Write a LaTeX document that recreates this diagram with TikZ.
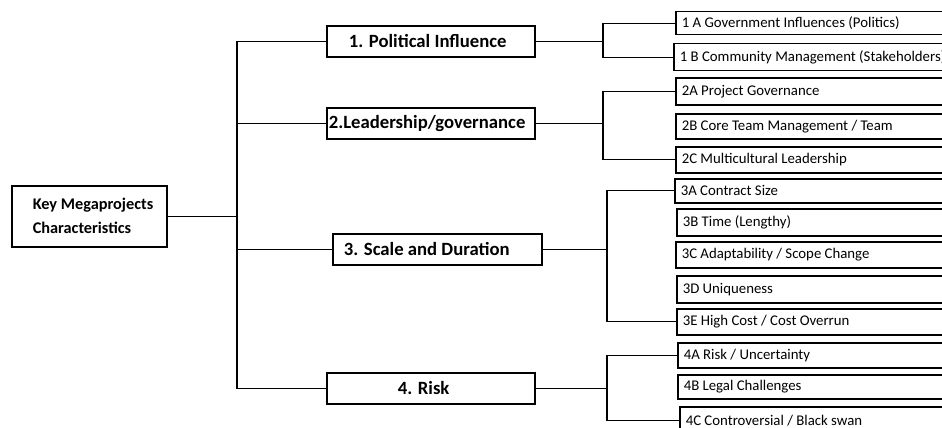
\documentclass[tikz,border=0pt]{standalone}
\usepackage{fontspec}
\setmainfont{Carlito}
\newcommand{\lbox}[3]{\makebox[#1][l]{\hspace*{#2}#3}}
\begin{document}
\begin{tikzpicture}[x=1pt,y=-1pt,
  conn/.style={line width=1.3pt},
  rootbox/.style={draw,line width=1.6pt,anchor=north west,minimum width=155pt,minimum height=61pt,inner xsep=0pt,font=\bfseries\fontsize{16.3}{24}\selectfont},
  lonebox/.style={draw,line width=1.6pt,anchor=north west,minimum height=31pt,inner xsep=0pt,inner ysep=0pt,font=\bfseries\fontsize{18.7}{20}\selectfont},
  ltwobox/.style={draw,line width=1.5pt,anchor=north west,minimum height=25pt,inner ysep=0pt,inner xsep=0pt,font=\fontsize{14.8}{16}\selectfont}]
\useasboundingbox (0,0) rectangle (942,428);
\clip (0,0) rectangle (942,428);
% root
\node[rootbox] (root) at (11,185) {\parbox{155pt}{\raggedright\hspace*{21pt}Key Megaprojects\\\hspace*{21pt}Characteristics}};
% level 1
\node[lonebox] (p1) at (326,25) {\lbox{208pt}{22pt}{1. Political Influence}};
\node[lonebox] (p2) at (326,107) {\lbox{208pt}{2pt}{2.Leadership/governance}};
\node[lonebox] (p3) at (332,233) {\lbox{209pt}{11pt}{3. Scale and Duration}};
\node[lonebox] (p4) at (326,372) {\lbox{208pt}{71pt}{4. Risk}};
% level 2
\node[ltwobox,minimum height=23pt] (c1a) at (675,11) {\lbox{285pt}{6pt}{1 A Government Influences (Politics)}};
\node[ltwobox,minimum height=27pt] (c1b) at (673,43) {\lbox{285pt}{6pt}{1 B Community Management (Stakeholders)}};
\node[ltwobox,minimum height=27pt] (c2a) at (675,77) {\lbox{285pt}{6pt}{2A Project Governance}};
\node[ltwobox] (c2b) at (675,113) {\lbox{285pt}{6pt}{2B Core Team Management / Team}};
\node[ltwobox,minimum height=26pt] (c2c) at (675,146) {\lbox{285pt}{6pt}{2C Multicultural Leadership}};
\node[ltwobox,minimum height=24pt] (c3a) at (674,178) {\lbox{285pt}{6pt}{3A Contract Size}};
\node[ltwobox,minimum height=27pt] (c3b) at (676,208) {\lbox{285pt}{6pt}{3B Time (Lengthy)}};
\node[ltwobox,minimum height=26pt] (c3c) at (675,241) {\lbox{285pt}{6pt}{3C Adaptability / Scope Change}};
\node[ltwobox,minimum height=27pt] (c3d) at (676,275) {\lbox{285pt}{6pt}{3D Uniqueness}};
\node[ltwobox,minimum height=26pt] (c3e) at (676,308) {\lbox{285pt}{6pt}{3E High Cost / Cost Overrun}};
\node[ltwobox,minimum height=25pt] (c4a) at (677,342) {\lbox{285pt}{6pt}{4A Risk / Uncertainty}};
\node[ltwobox,minimum height=24pt] (c4b) at (677,374) {\lbox{285pt}{6pt}{4B Legal Challenges}};
\node[ltwobox,minimum height=28pt] (c4c) at (679,406) {\lbox{285pt}{6pt}{4C Controversial / Black swan}};
% trunk
\coordinate (t) at (237,216);
\draw[conn] (root.east) -- (root.east -| t);
\draw[conn] (p1.west) -| (t) |- (p4.west);
\draw[conn] (t |- p2.west) -- (p2.west);
\draw[conn] (t |- p3.west) -- (p3.west);
% brackets
\coordinate (j1) at (603,41);
\coordinate (j2) at (603,123);
\coordinate (j3) at (607,248);
\coordinate (j4) at (607,386);
\draw[conn] (p1.east) -- (p1.east -| j1);
\draw[conn] (c1a.west) -| (j1) |- (c1b.west);
\draw[conn] (p2.east) -- (p2.east -| j2);
\draw[conn] (c2a.west) -| (j2) |- (c2c.west);
\draw[conn] (p3.east) -- (p3.east -| j3);
\draw[conn] (c3a.west) -| (j3) |- (c3e.west);
\draw[conn] (p4.east) -- (p4.east -| j4);
\draw[conn] (c4a.west) -| (j4) |- (c4c.west);
\end{tikzpicture}
\end{document}
